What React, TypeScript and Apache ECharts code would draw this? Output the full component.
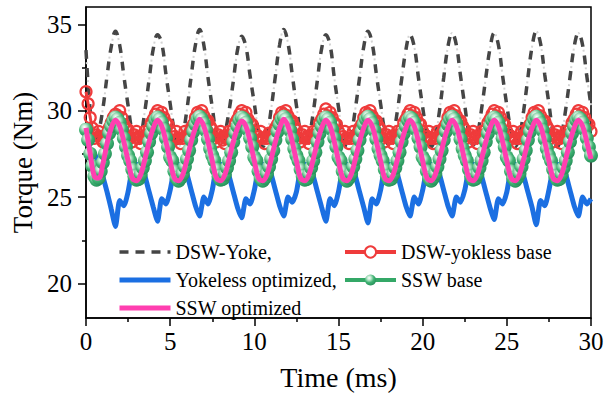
import React, { useEffect, useRef } from "react";
import * as echarts from "echarts";

// Time steps between samples (ms)
const T_STEP = 0.25;
const T_FINE = 0.125;

const X_TICKS = [0, 5, 10, 15, 20, 25, 30];
const Y_MAJOR = [20, 25, 30, 35];
const Y_MINOR = [22.5, 27.5, 32.5];

// DSW-Yoke (dash line), step 0.25 ms
const DSW_YOKE = [
  33.5, 30.0, 28.3, 28.8, 30.1, 32.0, 33.7, 34.6, 33.8, 32.0,
  30.3, 28.7, 27.9, 28.5, 30.0, 31.8, 33.6, 34.4, 33.9, 32.1,
  30.4, 28.8, 27.9, 28.6, 30.1, 32.0, 33.8, 34.7, 33.8, 31.9,
  30.2, 28.6, 28.0, 28.7, 30.0, 31.7, 33.5, 34.3, 33.7, 32.0,
  30.4, 28.8, 27.9, 28.6, 30.1, 32.0, 33.8, 34.7, 33.9, 32.1,
  30.3, 28.7, 27.9, 28.5, 29.9, 31.8, 33.6, 34.4, 33.8, 31.9,
  30.2, 28.6, 27.9, 28.6, 30.1, 31.9, 33.7, 34.6, 33.9, 32.1,
  30.4, 28.8, 28.0, 28.6, 30.0, 31.8, 33.5, 34.4, 33.7, 31.9,
  30.2, 28.7, 27.9, 28.5, 30.0, 31.9, 33.7, 34.5, 33.8, 32.0,
  30.3, 28.7, 28.0, 28.6, 30.1, 31.9, 33.6, 34.5, 33.8, 32.0,
  30.3, 28.8, 27.9, 28.5, 30.0, 31.9, 33.7, 34.6, 33.9, 32.1,
  30.4, 28.7, 27.9, 28.6, 30.1, 31.9, 33.7, 34.5, 33.8, 32.0,
  30.3,
];

// DSW-yokless base (red, hollow circles), step 0.125 ms
const DSW_YOKLESS_BASE = [
  31.1, 30.4, 29.6, 29.0, 28.4, 28.6, 28.8, 28.4, 28.2, 28.5, 28.7, 29.0, 29.3, 29.6, 29.8, 29.7, 30.0, 29.6, 29.2, 29.0,
  28.9, 28.4, 28.2, 28.6, 28.8, 28.4, 28.1, 28.5, 28.8, 28.6, 28.9, 29.3, 29.5, 29.8, 30.0, 29.7, 29.9, 29.6, 29.3, 29.2,
  28.8, 28.3, 28.5, 28.8, 28.4, 28.1, 28.4, 28.8, 28.5, 28.7, 29.0, 29.2, 29.6, 29.9, 29.8, 30.0, 29.7, 29.4, 29.4, 29.1,
  28.9, 28.4, 28.2, 28.6, 28.8, 28.3, 28.1, 28.5, 28.8, 28.6, 28.9, 29.3, 29.5, 29.8, 30.0, 29.7, 29.9, 29.5, 29.3, 29.2,
  28.8, 28.3, 28.5, 28.8, 28.4, 28.1, 28.4, 28.7, 28.5, 28.7, 29.0, 29.2, 29.6, 29.9, 29.8, 30.0, 29.7, 29.4, 29.4, 29.1,
  28.9, 28.4, 28.2, 28.6, 28.8, 28.4, 28.1, 28.5, 28.8, 28.6, 28.9, 29.3, 29.5, 29.8, 30.1, 29.7, 29.9, 29.6, 29.3, 29.2,
  28.8, 28.3, 28.5, 28.8, 28.4, 28.1, 28.4, 28.8, 28.5, 28.7, 29.0, 29.2, 29.6, 29.9, 29.8, 30.0, 29.7, 29.4, 29.4, 29.1,
  28.9, 28.4, 28.2, 28.6, 28.8, 28.4, 28.1, 28.5, 28.8, 28.6, 28.9, 29.3, 29.5, 29.8, 30.0, 29.7, 29.9, 29.6, 29.3, 29.2,
  28.8, 28.3, 28.5, 28.8, 28.4, 28.1, 28.4, 28.8, 28.5, 28.7, 29.0, 29.2, 29.6, 29.9, 29.8, 30.0, 29.7, 29.4, 29.4, 29.1,
  28.9, 28.4, 28.2, 28.6, 28.8, 28.4, 28.1, 28.5, 28.8, 28.6, 28.9, 29.3, 29.5, 29.8, 30.0, 29.7, 29.9, 29.6, 29.3, 29.2,
  28.8, 28.3, 28.5, 28.8, 28.4, 28.1, 28.4, 28.8, 28.5, 28.7, 29.0, 29.2, 29.6, 29.9, 29.8, 30.0, 29.7, 29.4, 29.4, 29.1,
  28.9, 28.4, 28.2, 28.6, 28.8, 28.4, 28.1, 28.5, 28.8, 28.6, 28.9, 29.3, 29.5, 29.8, 30.0, 29.7, 29.9, 29.6, 29.3, 29.2,
  28.8,
];

// Yokeless optimized (blue), step 0.25 ms
const YOKELESS_OPT = [
  27.5, 27.7, 27.5, 27.0, 26.2, 25.3, 24.3, 23.3, 24.8, 24.5,
  25.3, 26.6, 26.9, 26.8, 26.2, 25.3, 24.4, 23.6, 24.9, 24.6,
  25.4, 26.6, 26.9, 26.8, 26.3, 25.4, 24.5, 23.9, 25.0, 24.6,
  25.4, 26.7, 26.9, 26.8, 26.2, 25.3, 24.4, 23.8, 24.9, 24.6,
  25.4, 26.6, 26.9, 26.8, 26.3, 25.4, 24.5, 23.9, 25.0, 24.7,
  25.3, 26.6, 26.9, 26.8, 26.2, 25.3, 24.4, 23.6, 24.9, 24.5,
  25.3, 26.6, 26.9, 26.8, 26.2, 25.3, 24.4, 23.5, 24.9, 24.6,
  25.4, 26.7, 26.9, 26.8, 26.3, 25.4, 24.5, 23.9, 25.0, 24.6,
  25.4, 26.6, 26.9, 26.8, 26.3, 25.4, 24.5, 23.9, 25.0, 24.7,
  25.4, 26.6, 26.9, 26.8, 26.2, 25.3, 24.4, 23.7, 24.9, 24.6,
  25.3, 26.6, 26.9, 26.8, 26.2, 25.3, 24.4, 23.4, 24.8, 24.5,
  25.4, 26.6, 26.9, 26.8, 26.3, 25.4, 24.5, 23.9, 25.0, 24.6,
  24.9,
];

// SSW base (green spheres), step 0.125 ms
const SSW_BASE = [
  28.9, 28.3, 27.5, 26.8, 26.2, 26.0, 26.1, 26.5, 27.0, 27.5, 28.1, 28.7, 29.1, 29.4, 29.6, 29.5, 29.3, 28.9, 28.4, 27.9,
  27.4, 27.1, 26.6, 26.2, 26.0, 26.05, 26.3, 26.7, 27.1, 27.6, 28.2, 28.7, 29.1, 29.45, 29.6, 29.5, 29.3, 28.9, 28.4, 27.9,
  27.3, 27.1, 26.5, 26.1, 25.95, 26.1, 26.35, 26.75, 27.2, 27.7, 28.3, 28.8, 29.2, 29.5, 29.65, 29.5, 29.25, 28.85, 28.35, 27.8,
  27.4, 27.1, 26.6, 26.2, 26.0, 26.05, 26.3, 26.7, 27.1, 27.6, 28.2, 28.7, 29.1, 29.45, 29.6, 29.5, 29.3, 28.9, 28.4, 27.9,
  27.3, 27.1, 26.5, 26.1, 25.95, 26.1, 26.35, 26.75, 27.2, 27.7, 28.3, 28.8, 29.2, 29.5, 29.65, 29.5, 29.25, 28.85, 28.35, 27.8,
  27.4, 27.1, 26.6, 26.2, 26.0, 26.05, 26.3, 26.7, 27.1, 27.6, 28.2, 28.7, 29.1, 29.45, 29.6, 29.5, 29.3, 28.9, 28.4, 27.9,
  27.3, 27.1, 26.5, 26.1, 25.95, 26.1, 26.35, 26.75, 27.2, 27.7, 28.3, 28.8, 29.2, 29.5, 29.65, 29.5, 29.25, 28.85, 28.35, 27.8,
  27.4, 27.1, 26.6, 26.2, 26.0, 26.05, 26.3, 26.7, 27.1, 27.6, 28.2, 28.7, 29.1, 29.45, 29.6, 29.5, 29.3, 28.9, 28.4, 27.9,
  27.3, 27.1, 26.5, 26.1, 25.95, 26.1, 26.35, 26.75, 27.2, 27.7, 28.3, 28.8, 29.2, 29.5, 29.65, 29.5, 29.25, 28.85, 28.35, 27.8,
  27.4, 27.1, 26.6, 26.2, 26.0, 26.05, 26.3, 26.7, 27.1, 27.6, 28.2, 28.7, 29.1, 29.45, 29.6, 29.5, 29.3, 28.9, 28.4, 27.9,
  27.3, 27.1, 26.5, 26.1, 25.95, 26.1, 26.35, 26.75, 27.2, 27.7, 28.3, 28.8, 29.2, 29.5, 29.65, 29.5, 29.25, 28.85, 28.35, 27.8,
  27.4, 27.1, 26.6, 26.2, 26.0, 26.05, 26.3, 26.7, 27.1, 27.6, 28.2, 28.7, 29.1, 29.45, 29.6, 29.5, 29.3, 28.9, 28.4, 27.9,
  27.4,
];

// SSW optimized (pink), step 0.25 ms
const SSW_OPT = [
  29.0, 27.5, 26.2, 26.1, 26.9, 28.1, 29.0, 29.45, 29.1, 28.2,
  27.1, 26.1, 25.95, 26.3, 27.2, 28.2, 29.0, 29.45, 29.1, 28.2,
  27.1, 26.1, 25.95, 26.3, 27.2, 28.2, 29.0, 29.5, 29.1, 28.2,
  27.1, 26.1, 25.95, 26.3, 27.2, 28.2, 29.0, 29.4, 29.1, 28.2,
  27.1, 26.1, 25.95, 26.3, 27.2, 28.2, 29.0, 29.5, 29.1, 28.2,
  27.1, 26.1, 25.95, 26.3, 27.2, 28.2, 29.0, 29.45, 29.1, 28.2,
  27.1, 26.1, 25.95, 26.3, 27.2, 28.2, 29.0, 29.45, 29.1, 28.2,
  27.1, 26.1, 25.95, 26.3, 27.2, 28.2, 29.0, 29.45, 29.1, 28.2,
  27.1, 26.1, 25.95, 26.3, 27.2, 28.2, 29.0, 29.45, 29.1, 28.2,
  27.1, 26.1, 25.95, 26.3, 27.2, 28.2, 29.0, 29.45, 29.1, 28.2,
  27.1, 26.1, 25.95, 26.3, 27.2, 28.2, 29.0, 29.45, 29.1, 28.2,
  27.1, 26.1, 25.95, 26.3, 27.2, 28.2, 29.0, 29.45, 29.1, 28.2,
  27.2,
];

const NAMES = {
  dswYoke: "DSW-Yoke,",
  yokelessOpt: "Yokeless optimized,",
  sswOpt: "SSW optimized",
  dswYoklessBase: "DSW-yokless base",
  sswBase: "SSW base",
};

const FONT = "'Liberation Serif', 'Times New Roman', serif";

const C_DASH = "#454545";
const C_DOT = "#d4d4d4";
const C_RED = "#ef3b3b";
const C_BLUE = "#1b6fe2";
const C_GREEN = "#34a867";
const C_PINK = "#ff3fb0";

function pairs(values: number[], step: number) {
  return values.map((v, i) => [i * step, v]);
}

export default function App() {
  const ref = useRef<HTMLDivElement>(null);

  useEffect(() => {
    document.body.style.margin = "0";
    if (!ref.current) return;
    const chart = echarts.init(ref.current, undefined, { renderer: "svg" });

    const sphere = new echarts.graphic.RadialGradient(0.38, 0.32, 0.7, [
      { offset: 0, color: "#ffffff" },
      { offset: 0.25, color: "#bfe8cf" },
      { offset: 0.6, color: "#3fb272" },
      { offset: 1, color: "#27905a" },
    ]);

    const axisLineStyle = { color: "#000", width: 1.5 };
    const legendText = { fontFamily: FONT, fontSize: 20, color: "#000", lineHeight: 20 };
    const noSymbol = { color: "rgba(0,0,0,0)", opacity: 0 };
    const hollowRed = { color: "rgba(255,255,255,0)", borderColor: C_RED, borderWidth: 2.2 };

    chart.setOption({
      animation: false,
      backgroundColor: "#fff",
      grid: {
        left: 86,
        right: 24,
        top: 7,
        bottom: 72,
        show: true,
        borderColor: "#000",
        borderWidth: 1.5,
      },
      xAxis: {
        type: "value",
        min: X_TICKS[0],
        max: X_TICKS[X_TICKS.length - 1],
        interval: 5,
        name: "Time (ms)",
        nameLocation: "middle",
        nameGap: 45,
        nameTextStyle: { fontFamily: FONT, fontSize: 28, color: "#000" },
        axisLine: { show: true, lineStyle: axisLineStyle },
        axisTick: { show: true, length: 8, lineStyle: axisLineStyle },
        minorTick: { show: true, splitNumber: 2, length: 4, lineStyle: axisLineStyle },
        splitLine: { show: false },
        minorSplitLine: { show: false },
        axisLabel: { fontFamily: FONT, fontSize: 25, color: "#000", margin: 11 },
      },
      yAxis: [
        {
          type: "value",
          min: 18,
          max: 36,
          name: "Torque (Nm)",
          nameLocation: "middle",
          nameGap: 48,
          nameTextStyle: { fontFamily: FONT, fontSize: 27, color: "#000" },
          axisLine: { show: true, lineStyle: axisLineStyle },
          axisTick: { show: true, length: 8, lineStyle: axisLineStyle, customValues: Y_MAJOR },
          axisLabel: { fontFamily: FONT, fontSize: 25, color: "#000", margin: 14, customValues: Y_MAJOR },
          splitLine: { show: false },
        },
        {
          type: "value",
          min: 18,
          max: 36,
          position: "left",
          axisLine: { show: false },
          axisTick: { show: true, length: 4, lineStyle: axisLineStyle, customValues: Y_MINOR },
          axisLabel: { show: false },
          splitLine: { show: false },
        },
      ],
      legend: [
        {
          data: [
            { name: NAMES.dswYoke, lineStyle: { width: 3.5, color: C_DASH, type: [9, 7] }, itemStyle: noSymbol },
            { name: NAMES.yokelessOpt, lineStyle: { width: 5, color: C_BLUE }, itemStyle: noSymbol },
            { name: NAMES.sswOpt, lineStyle: { width: 5, color: C_PINK }, itemStyle: noSymbol },
          ],
          orient: "vertical",
          left: 117,
          top: 242,
          padding: 0,
          itemWidth: 51,
          itemHeight: 14,
          itemGap: 8,
          selectedMode: false,
          textStyle: legendText,
        },
        {
          data: [
            { name: NAMES.dswYoklessBase, lineStyle: { width: 4, color: C_RED }, itemStyle: { color: "#fff", borderColor: C_RED, borderWidth: 2 } },
            { name: NAMES.sswBase, lineStyle: { width: 4, color: C_GREEN } },
          ],
          orient: "vertical",
          left: 343,
          top: 242,
          padding: 0,
          itemWidth: 51,
          itemHeight: 14,
          itemGap: 8,
          selectedMode: false,
          textStyle: legendText,
        },
      ],
      series: [
        {
          name: NAMES.dswYoke,
          type: "line",
          data: pairs(DSW_YOKE, T_STEP),
          smooth: 0.4,
          showSymbol: false,
          symbol: "none",
          lineStyle: { color: C_DASH, width: 3.5, type: [9, 9] },
          itemStyle: noSymbol,
          z: 2,
        },
        {
          name: "dsw-yoke-dots",
          type: "line",
          data: pairs(DSW_YOKE, T_STEP),
          smooth: 0.4,
          showSymbol: false,
          symbol: "none",
          silent: true,
          lineStyle: { color: C_DOT, width: 2, type: [2, 16], dashOffset: 5.5 },
          itemStyle: noSymbol,
          z: 2,
        },
        {
          name: NAMES.dswYoklessBase,
          type: "line",
          data: pairs(DSW_YOKLESS_BASE, T_FINE),
          smooth: 0.3,
          symbol: "circle",
          symbolSize: 11,
          showAllSymbol: true,
          lineStyle: { color: C_RED, width: 3 },
          itemStyle: hollowRed,
          z: 3,
        },
        {
          name: NAMES.yokelessOpt,
          type: "line",
          data: pairs(YOKELESS_OPT, T_STEP),
          smooth: 0.2,
          symbol: "none",
          lineStyle: { color: C_BLUE, width: 5 },
          itemStyle: noSymbol,
          z: 4,
        },
        {
          name: NAMES.sswBase,
          type: "line",
          data: pairs(SSW_BASE, T_FINE),
          smooth: 0.4,
          symbol: "circle",
          symbolSize: 14,
          showAllSymbol: true,
          lineStyle: { color: C_GREEN, width: 5 },
          itemStyle: { color: sphere, borderWidth: 0 },
          z: 5,
        },
        {
          name: NAMES.sswOpt,
          type: "line",
          data: pairs(SSW_OPT, T_STEP),
          smooth: 0.4,
          symbol: "none",
          lineStyle: { color: C_PINK, width: 5 },
          itemStyle: noSymbol,
          z: 6,
        },
      ],
    });

    return () => chart.dispose();
  }, []);

  return <div ref={ref} style={{ width: 615, height: 396 }} />;
}
